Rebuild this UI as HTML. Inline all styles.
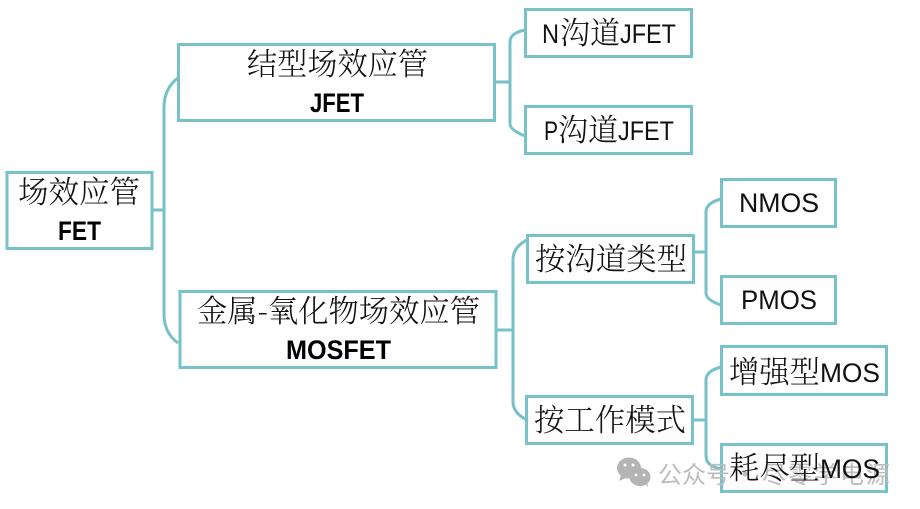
<!DOCTYPE html>
<html><head><meta charset="utf-8"><style>
html,body{margin:0;padding:0;background:#fff;width:920px;height:509px;overflow:hidden}
svg{display:block}
.b{fill:#fff;stroke:#77c2c9;stroke-width:3}
.l{fill:none;stroke:#77c2c9;stroke-width:3}
.c{font-family:"Noto Serif CJK SC","Liberation Serif",serif;font-size:31px;font-weight:300;fill:#111}
.n{font-family:"Liberation Sans","Noto Sans CJK SC",sans-serif;font-size:27px;fill:#111}
.h{font-family:"Liberation Sans","Noto Sans CJK SC",sans-serif;font-size:27px;font-weight:bold;fill:#000}
.w{font-family:"Noto Sans CJK SC","Liberation Sans",sans-serif;font-size:24px;fill:#bcbcbc}
</style></head><body>
<svg width="920" height="509" viewBox="0 0 920 509" xmlns="http://www.w3.org/2000/svg">
<path class="l" d="M152 210H164M178 78Q164 88 164 108V314Q164 333 178 343"/>
<path class="l" d="M495 82H510M525 30Q510 33 510 42V124Q510 130 525 136"/>
<path class="l" d="M497 330H513M527 240Q513 247 513 260V402Q513 413 527 420"/>
<path class="l" d="M694 252H706M721 199Q706 203 706 212V293Q706 300 721 305"/>
<path class="l" d="M693 420H706M721 367Q706 371 706 380V456Q706 466 721 469"/>
<rect class="b" x="7" y="172.500" width="145" height="76"/>
<rect class="b" x="178.500" y="44.500" width="316" height="76"/>
<rect class="b" x="180" y="291.500" width="316" height="76"/>
<rect class="b" x="525.500" y="9.500" width="166" height="47"/>
<rect class="b" x="525.500" y="106.500" width="166" height="47"/>
<rect class="b" x="527.500" y="235.500" width="166" height="47"/>
<rect class="b" x="526.500" y="396.500" width="166" height="47"/>
<rect class="b" x="721.500" y="179.500" width="114" height="47"/>
<rect class="b" x="721.500" y="276.500" width="114" height="47"/>
<rect class="b" x="721.500" y="346.500" width="165" height="48"/>
<rect class="b" x="721.500" y="444.500" width="165" height="47"/>
<g fill="#b4b4b4">
<ellipse cx="629" cy="468" rx="12" ry="10.500"/>
<path d="M621 475l-2 6 7-3z"/>
<ellipse cx="640" cy="477" rx="10.500" ry="9"/>
<path d="M645 484l3 3-1-6z"/>
</g>
<g fill="#fff"><circle cx="625" cy="465" r="1.500"/><circle cx="633" cy="465" r="1.500"/><circle cx="636" cy="475" r="1.400"/><circle cx="644" cy="475" r="1.400"/></g>
<text class="w" x="658" y="483">公众号</text>
<text class="w" x="733" y="483">·</text>
<text class="w" x="762" y="483" textLength="128" lengthAdjust="spacing">尽零学电源</text>
<text class="c" x="18" y="203" textLength="122" lengthAdjust="spacingAndGlyphs">场效应管</text>
<text class="h" x="58" y="240" textLength="43" lengthAdjust="spacingAndGlyphs">FET</text>
<text class="c" x="247" y="75" textLength="181" lengthAdjust="spacingAndGlyphs">结型场效应管</text>
<text class="h" x="310" y="112" textLength="54" lengthAdjust="spacingAndGlyphs">JFET</text>
<text class="c" x="197" y="322" textLength="283" lengthAdjust="spacingAndGlyphs">金属-氧化物场效应管</text>
<text class="h" x="286" y="359" textLength="105" lengthAdjust="spacingAndGlyphs">MOSFET</text>
<text class="n" x="542" y="43" textLength="17" lengthAdjust="spacingAndGlyphs">N</text>
<text class="c" x="560" y="44" textLength="60" lengthAdjust="spacingAndGlyphs">沟道</text>
<text class="n" x="620" y="43" textLength="56" lengthAdjust="spacingAndGlyphs">JFET</text>
<text class="n" x="544" y="140" textLength="14" lengthAdjust="spacingAndGlyphs">P</text>
<text class="c" x="558" y="141" textLength="60" lengthAdjust="spacingAndGlyphs">沟道</text>
<text class="n" x="618" y="140" textLength="56" lengthAdjust="spacingAndGlyphs">JFET</text>
<text class="c" x="535" y="270" textLength="152" lengthAdjust="spacingAndGlyphs">按沟道类型</text>
<text class="c" x="534" y="431" textLength="152" lengthAdjust="spacingAndGlyphs">按工作模式</text>
<text class="n" x="739" y="212" textLength="80" lengthAdjust="spacingAndGlyphs">NMOS</text>
<text class="n" x="741" y="309" textLength="76" lengthAdjust="spacingAndGlyphs">PMOS</text>
<text class="c" x="729" y="383" textLength="91" lengthAdjust="spacingAndGlyphs">增强型</text>
<text class="n" x="820" y="382" textLength="60" lengthAdjust="spacingAndGlyphs">MOS</text>
<text class="c" x="729" y="479" textLength="91" lengthAdjust="spacingAndGlyphs">耗尽型</text>
<text class="n" x="820" y="478" textLength="60" lengthAdjust="spacingAndGlyphs">MOS</text>
</svg>
</body></html>
